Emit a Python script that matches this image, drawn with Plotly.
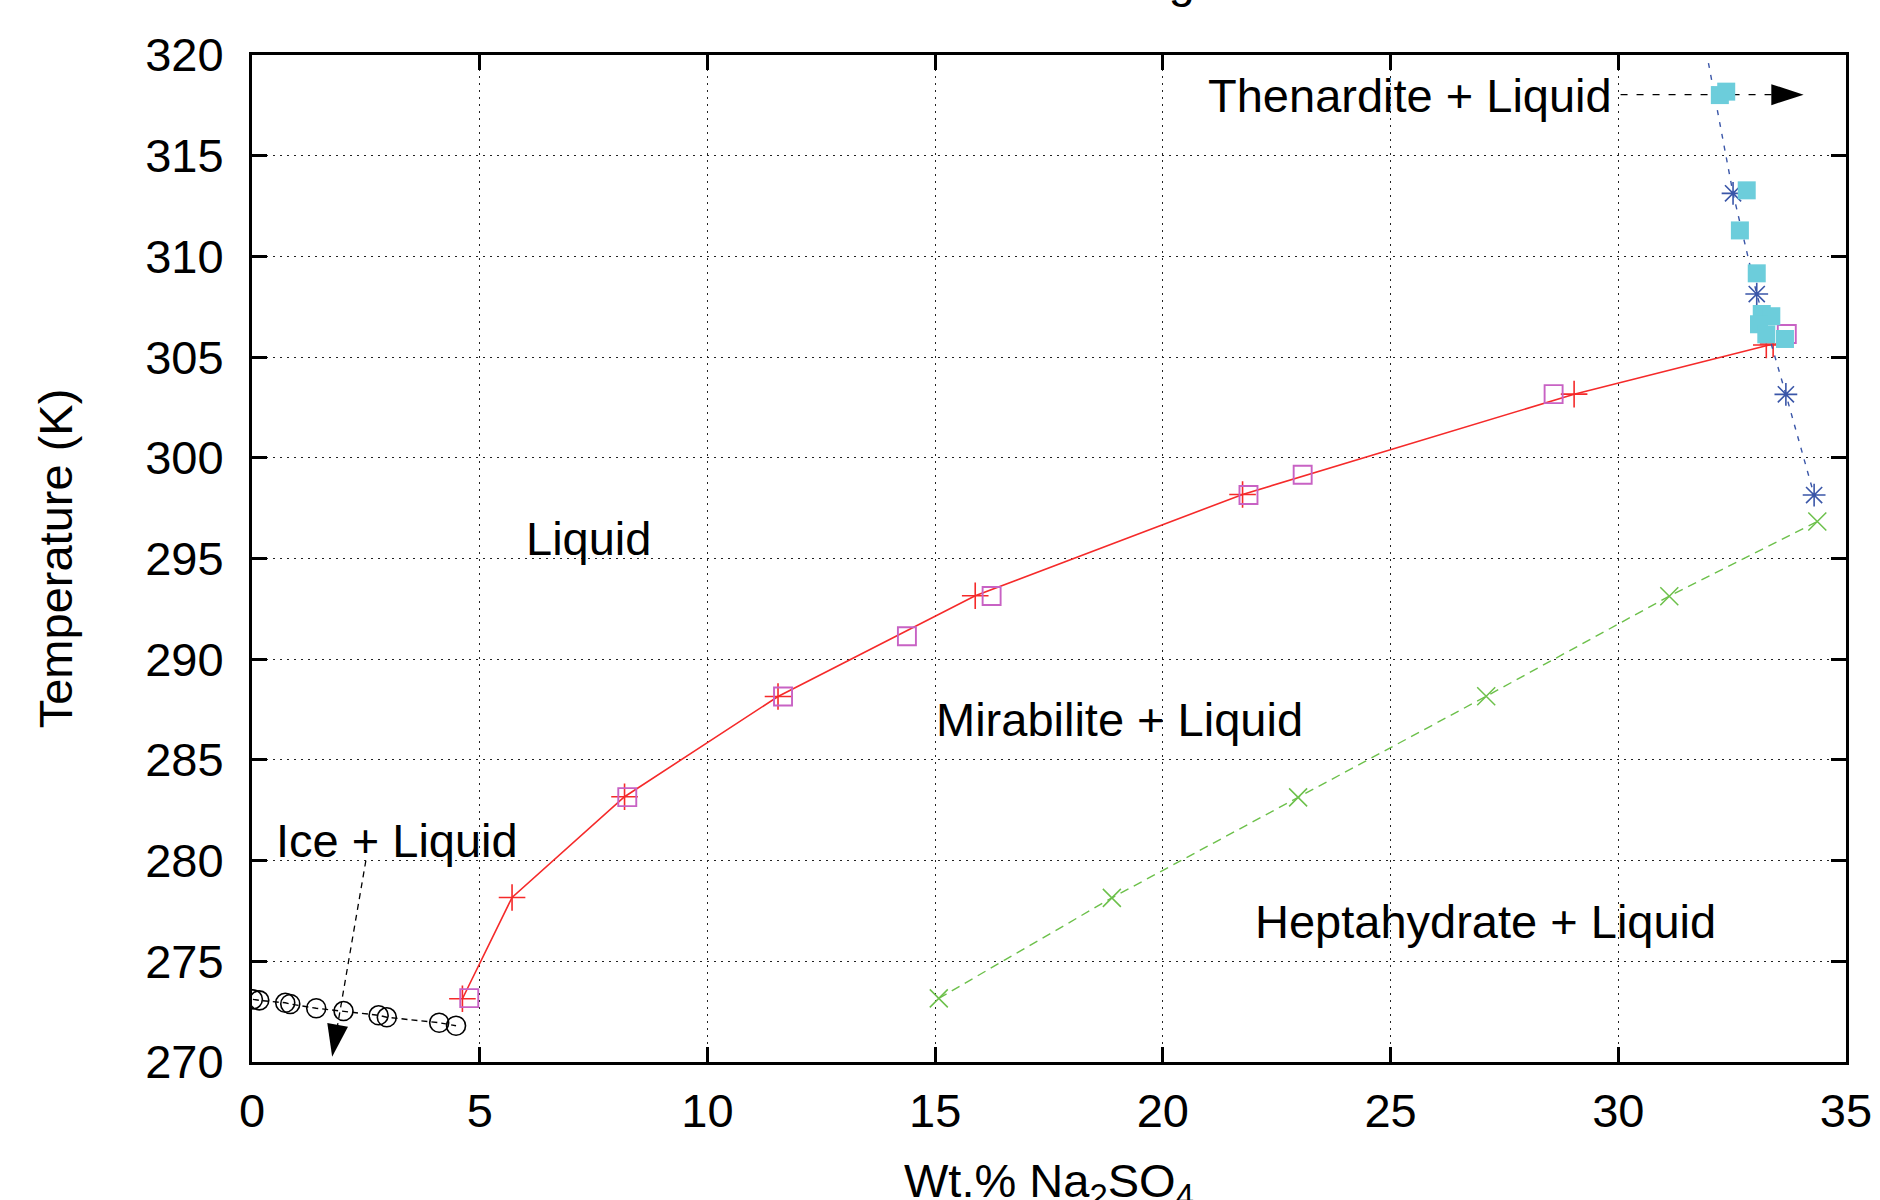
import plotly.graph_objects as go

# ---------------- data ----------------
# Ice + liquid (freezing-point depression) data
ice_x = [0.02, 0.16, 0.73, 0.84, 1.41, 2.01, 2.78, 2.96, 4.11, 4.48]
ice_t = [273.11, 273.06, 272.94, 272.88, 272.67, 272.53, 272.32, 272.22, 271.95, 271.80]

# Mirabilite solubility (calculated, red +)
mirab_x = [4.62, 5.71, 8.18, 11.55, 15.88, 21.75, 29.03, 33.25, 33.40]
mirab_t = [273.14, 278.17, 283.17, 288.15, 293.15, 298.18, 303.16, 305.60, 305.65]

# Mirabilite solubility (experimental, magenta squares)
mirab_exp_x = [4.77, 8.24, 11.66, 14.38, 16.24, 21.88, 23.07, 28.58, 33.70]
mirab_exp_t = [273.17, 283.15, 288.15, 291.14, 293.14, 298.15, 299.16, 303.16, 306.15]

# Heptahydrate solubility (green x)
hepta_x = [15.08, 18.88, 22.97, 27.10, 31.12, 34.37]
hepta_t = [273.16, 278.15, 283.14, 288.16, 293.13, 296.84]

# Thenardite solubility (calculated, blue stars) and line top end
then_x = [32.52, 33.04, 33.68, 34.30]
then_t = [313.13, 308.13, 303.15, 298.15]
then_top_x = [31.98]
then_top_t = [319.6]

# Thenardite solubility (experimental, cyan squares)
then_exp_x = [32.23, 32.37, 32.82, 32.67, 33.04, 33.15, 33.36, 33.09, 33.25, 33.66]
then_exp_t = [318.01, 318.18, 313.28, 311.29, 309.16, 307.14, 307.03, 306.63, 306.13, 305.90]

# Label arrows (tail -> tip)
ice_arrow_x = [2.5, 1.76]
ice_arrow_t = [280.0, 270.26]
then_arrow_x = [30.05, 34.07]
then_arrow_t = [318.03, 318.03]

# Region labels
labels = ["Thenardite + Liquid", "Liquid", "Mirabilite + Liquid", "Ice + Liquid", "Heptahydrate + Liquid"]
label_x = [20.95, 5.98, 14.98, 0.48, 21.98]
label_t = [318.0, 296.0, 287.0, 281.0, 277.0]

x_ticks = [0, 5, 10, 15, 20, 25, 30, 35]
y_ticks = [270, 275, 280, 285, 290, 295, 300, 305, 310, 315, 320]

FONT = "Liberation Sans, Arial, Helvetica, sans-serif"
FS = 47

fig = go.Figure()

# Ice line
fig.add_trace(go.Scatter(
    x=ice_x, y=ice_t, mode="lines+markers",
    line=dict(color="black", width=1.4, dash="6px,4px"),
    marker=dict(symbol="circle-open", size=19, color="black", line=dict(width=1.6)),
))

# Ice arrow
fig.add_trace(go.Scatter(
    x=ice_arrow_x, y=ice_arrow_t, mode="lines+markers",
    line=dict(color="black", width=1.3, dash="6px,5px"),
    marker=dict(symbol="arrow", size=34, color="black", angleref="previous", line=dict(width=0)),
))

# Thenardite arrow
fig.add_trace(go.Scatter(
    x=then_arrow_x, y=then_arrow_t, mode="lines+markers",
    line=dict(color="black", width=1.3, dash="7px,9px"),
    marker=dict(symbol="arrow", size=34, color="black", angleref="previous", line=dict(width=0)),
))

# Mirabilite calculated
fig.add_trace(go.Scatter(
    x=mirab_x, y=mirab_t, mode="lines+markers",
    line=dict(color="#f52a2a", width=1.6),
    marker=dict(symbol="cross-thin-open", size=19, color="#f52a2a", line=dict(width=1.6)),
))

# Mirabilite experimental
fig.add_trace(go.Scatter(
    x=mirab_exp_x, y=mirab_exp_t, mode="markers",
    marker=dict(symbol="square-open", size=18, color="#c862c4", line=dict(width=1.9)),
))

# Heptahydrate
fig.add_trace(go.Scatter(
    x=hepta_x, y=hepta_t, mode="lines+markers",
    line=dict(color="#6cc04a", width=1.4, dash="9px,6px"),
    marker=dict(symbol="x-thin-open", size=18, color="#6cc04a", line=dict(width=1.5)),
))

# Thenardite calculated line (dotted) and stars
fig.add_trace(go.Scatter(
    x=then_top_x + then_x, y=then_top_t + then_t, mode="lines",
    line=dict(color="#3a56a8", width=1.4, dash="5px,7px"),
))
fig.add_trace(go.Scatter(
    x=then_x, y=then_t, mode="markers",
    marker=dict(symbol="asterisk-open", size=19, color="#3a56a8", line=dict(width=1.6)),
))

# Thenardite experimental
fig.add_trace(go.Scatter(
    x=then_exp_x, y=then_exp_t, mode="markers",
    marker=dict(symbol="square", size=18, color="#6ccddb", line=dict(width=0)),
))

for txt, lx, lt in zip(labels, label_x, label_t):
    fig.add_annotation(x=lx, y=lt, xref="x", yref="y", text=txt, showarrow=False,
                       xanchor="left", yanchor="middle",
                       font=dict(family=FONT, size=FS, color="black"))

# Title (mostly above the visible page)
fig.add_annotation(x=0.6437, y=1, xref="paper", yref="paper", text="Phase Diagram",
                   showarrow=False, xanchor="right", yanchor="bottom", yshift=46,
                   font=dict(family=FONT, size=FS, color="black"))

# X-axis title (partly below the visible page, as in the reference)
fig.add_annotation(x=0.5, y=0, xref="paper", yref="paper",
                   text="Wt.% Na<sub>2</sub>SO<sub>4</sub>",
                   showarrow=False, xanchor="center", yanchor="top", yshift=-90,
                   font=dict(family=FONT, size=FS, color="black"))

axis_common = dict(
    showline=True, linecolor="black", linewidth=3, mirror="allticks",
    ticks="inside", ticklen=15, tickwidth=2.5, tickcolor="black",
    showgrid=True, gridcolor="#222", gridwidth=1.2, griddash="2px,5px",
    zeroline=False, tickfont=dict(family=FONT, size=FS, color="black"),
)

fig.update_xaxes(range=[0, 35], tickvals=x_ticks, ticktext=[str(v) for v in x_ticks],
                 ticklabelstandoff=6, **axis_common)
fig.update_yaxes(range=[270, 320], tickvals=y_ticks, ticktext=[str(v) for v in y_ticks],
                 title=dict(text="Temperature (K)", standoff=58,
                            font=dict(family=FONT, size=FS, color="black")),
                 ticklabelstandoff=16, **axis_common)

fig.update_layout(
    width=1880, height=1200,
    margin=dict(l=252, r=34, t=55, b=138, autoexpand=False),
    plot_bgcolor="white", paper_bgcolor="white",
    showlegend=False,
    font=dict(family=FONT, size=FS, color="black"),
)

fig.write_html("out.html")
